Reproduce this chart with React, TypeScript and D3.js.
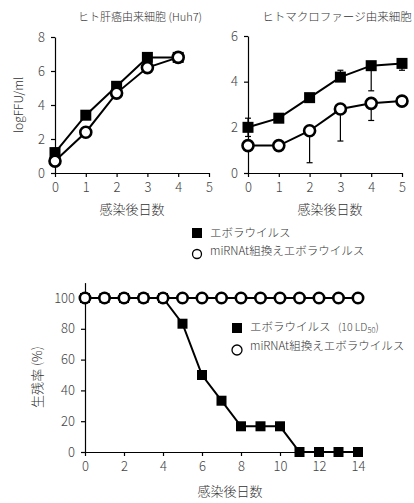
import React, { useRef, useEffect } from 'react';
import * as d3 from 'd3';

// top-left panel: Huh7
const huhDays = [0, 1, 2, 3, 4];
const huhEbola = [1.2, 3.4, 5.1, 6.8, 6.8];
const huhMiRNA = [0.7, 2.4, 4.7, 6.2, 6.8];

// top-right panel: macrophage
const macDays = [0, 1, 2, 3, 4, 5];
const macEbola = [2.0, 2.4, 3.3, 4.2, 4.7, 4.8];
const macEbolaErrHi = [0.4, 0, 0, 0.3, 0, 0];
const macEbolaErrLo = [0.4, 0, 0, 0, 1.1, 0.3];
const macMiRNA = [1.2, 1.2, 1.85, 2.8, 3.05, 3.15];
const macMiRNAErrHi = [0, 0, 0, 0, 0, 0];
const macMiRNAErrLo = [0, 0, 1.4, 1.4, 0.75, 0];

// bottom panel: survival
const survDays = [0, 1, 2, 3, 4, 5, 6, 7, 8, 9, 10, 11, 12, 13, 14];
const survEbola = [100, 100, 100, 100, 100, 83.3, 50, 33.3, 16.7, 16.7, 16.7, 0, 0, 0, 0];
const survMiRNA = [100, 100, 100, 100, 100, 100, 100, 100, 100, 100, 100, 100, 100, 100, 100];

const FONT = '"Noto Sans CJK JP", "Noto Sans", sans-serif';
const TXT = '#333';

const App = () => {
  const ref = useRef<SVGSVGElement>(null);

  useEffect(() => {
    const svg = d3.select(ref.current);
    svg.selectAll('*').remove();
    svg.attr('font-family', FONT).attr('font-weight', 300);

    const styleAxis = (g: any) => {
      g.select('.domain').attr('stroke', '#000').attr('stroke-width', 1.2);
      g.selectAll('.tick line').attr('stroke', '#000').attr('stroke-width', 1.2);
      g.selectAll('.tick text').attr('fill', '#444').attr('font-size', 13)
        .attr('font-family', FONT).attr('font-weight', 300);
    };

    const drawPanel = (
      x: d3.ScaleLinear<number, number>,
      y: d3.ScaleLinear<number, number>,
      xTicks: number[],
      yTicks: number[],
      x0: number,
      y0: number
    ) => {
      const ax = svg.append('g').attr('transform', `translate(0,${y0})`)
        .call(d3.axisBottom(x).tickValues(xTicks).tickFormat(d3.format('d')).tickSize(4).tickSizeOuter(0).tickPadding(6));
      styleAxis(ax);
      const ay = svg.append('g').attr('transform', `translate(${x0},0)`)
        .call(d3.axisLeft(y).tickValues(yTicks).tickFormat(d3.format('d')).tickSize(4).tickSizeOuter(0).tickPadding(6));
      styleAxis(ay);
    };

    const line = (x: any, y: any, days: number[], vals: number[]) =>
      d3.line<number>().x((d, i) => x(days[i])).y(d => y(d))(vals);

    const drawSeries = (
      x: any, y: any, days: number[], vals: number[], kind: 'sq' | 'circ', size: number,
      errHi?: number[], errLo?: number[]
    ) => {
      if (errHi && errLo) {
        const g = svg.append('g');
        vals.forEach((v, i) => {
          const cx = x(days[i]);
          const bar = (e: number) => {
            g.append('line').attr('x1', cx).attr('x2', cx).attr('y1', y(v)).attr('y2', y(v + e)).attr('stroke', '#000').attr('stroke-width', 1.2);
            g.append('line').attr('x1', cx - 3).attr('x2', cx + 3).attr('y1', y(v + e)).attr('y2', y(v + e)).attr('stroke', '#000').attr('stroke-width', 1.2);
          };
          if (errHi[i] > 0) bar(errHi[i]);
          if (errLo[i] > 0) bar(-errLo[i]);
        });
      }
      svg.append('path').attr('d', line(x, y, days, vals)).attr('fill', 'none').attr('stroke', '#000').attr('stroke-width', 2);
      if (kind === 'sq') {
        svg.append('g').selectAll('rect').data(vals).enter().append('rect')
          .attr('x', (d, i) => x(days[i]) - size / 2)
          .attr('y', d => y(d) - size / 2)
          .attr('width', size).attr('height', size)
          .attr('fill', '#000');
      } else {
        svg.append('g').selectAll('circle').data(vals).enter().append('circle')
          .attr('cx', (d, i) => x(days[i]))
          .attr('cy', d => y(d))
          .attr('r', size)
          .attr('fill', '#fff').attr('stroke', '#000').attr('stroke-width', 2.6);
      }
    };

    const text = (t: string, x: number, y: number, size: number, anchor = 'middle', rotate = false) => {
      const el = svg.append('text').attr('x', x).attr('y', y).attr('font-size', size)
        .attr('fill', TXT).attr('text-anchor', anchor).attr('dominant-baseline', 'middle').text(t);
      if (rotate) el.attr('transform', `rotate(-90,${x},${y})`);
      return el;
    };

    // ---- top-left
    const x1 = d3.scaleLinear().domain([0, 5]).range([55, 209]);
    const y1 = d3.scaleLinear().domain([0, 8]).range([173, 37]);
    drawPanel(x1, y1, [0, 1, 2, 3, 4, 5], [0, 2, 4, 6, 8], 55, 173);
    drawSeries(x1, y1, huhDays, huhEbola, 'sq', 11, [0.25, 0, 0, 0, 0], [0, 0, 0, 0, 0]);
    drawSeries(x1, y1, huhDays, huhMiRNA, 'circ', 5.5);
    text('ヒト肝癌由来細胞 (Huh7)', 140, 18, 11);
    text('logFFU/ml', 20, 105, 12, 'middle', true);
    text('感染後日数', 132, 210, 13);

    // ---- top-right
    const x2 = d3.scaleLinear().domain([0, 5]).range([248, 402]);
    const y2 = d3.scaleLinear().domain([0, 6]).range([173, 36]);
    drawPanel(x2, y2, [0, 1, 2, 3, 4, 5], [0, 2, 4, 6], 248, 173);
    drawSeries(x2, y2, macDays, macMiRNA, 'circ', 5.5, macMiRNAErrHi, macMiRNAErrLo);
    drawSeries(x2, y2, macDays, macEbola, 'sq', 11, macEbolaErrHi, macEbolaErrLo);
    text('ヒトマクロファージ由来細胞', 337, 18, 11.5);
    text('感染後日数', 330, 210, 13);

    // top legend
    svg.append('rect').attr('x', 192).attr('y', 228).attr('width', 10).attr('height', 10).attr('fill', '#000');
    text('エボラウイルス', 210, 234, 11.5, 'start');
    svg.append('circle').attr('cx', 197).attr('cy', 254).attr('r', 4.5).attr('fill', '#fff').attr('stroke', '#000').attr('stroke-width', 1.3);
    text('miRNAt組換えエボラウイルス', 210, 252, 11.5, 'start');

    // ---- bottom
    const x3 = d3.scaleLinear().domain([0, 14]).range([85, 358]);
    const y3 = d3.scaleLinear().domain([0, 110]).range([452, 282.6]);
    drawPanel(x3, y3, [0, 2, 4, 6, 8, 10, 12, 14], [0, 20, 40, 60, 80, 100], 85, 452);
    drawSeries(x3, y3, survDays, survEbola, 'sq', 10);
    drawSeries(x3, y3, survDays, survMiRNA, 'circ', 5.2);
    text('生残率 (%)', 38, 377, 13, 'middle', true);
    text('感染後日数', 230, 492, 13);

    // bottom legend
    svg.append('rect').attr('x', 232).attr('y', 323).attr('width', 10).attr('height', 10).attr('fill', '#000');
    text('エボラウイルス', 250, 328, 11.5, 'start');
    const sub = svg.append('text').attr('x', 338).attr('y', 328).attr('font-size', 10.5).attr('fill', '#444')
      .attr('dominant-baseline', 'middle');
    sub.append('tspan').text('(10 LD');
    sub.append('tspan').attr('font-size', 7.5).attr('dy', 3).text('50');
    sub.append('tspan').attr('dy', -3).text(')');
    svg.append('circle').attr('cx', 237).attr('cy', 350).attr('r', 5).attr('fill', '#fff').attr('stroke', '#000').attr('stroke-width', 1.3);
    text('miRNAt組換えエボラウイルス', 250, 347, 11.5, 'start');
  }, []);

  return (
    <svg ref={ref} width={414} height={503} style={{ position: 'absolute', left: 0, top: 0, background: '#fff' }} />
  );
};

export default App;
